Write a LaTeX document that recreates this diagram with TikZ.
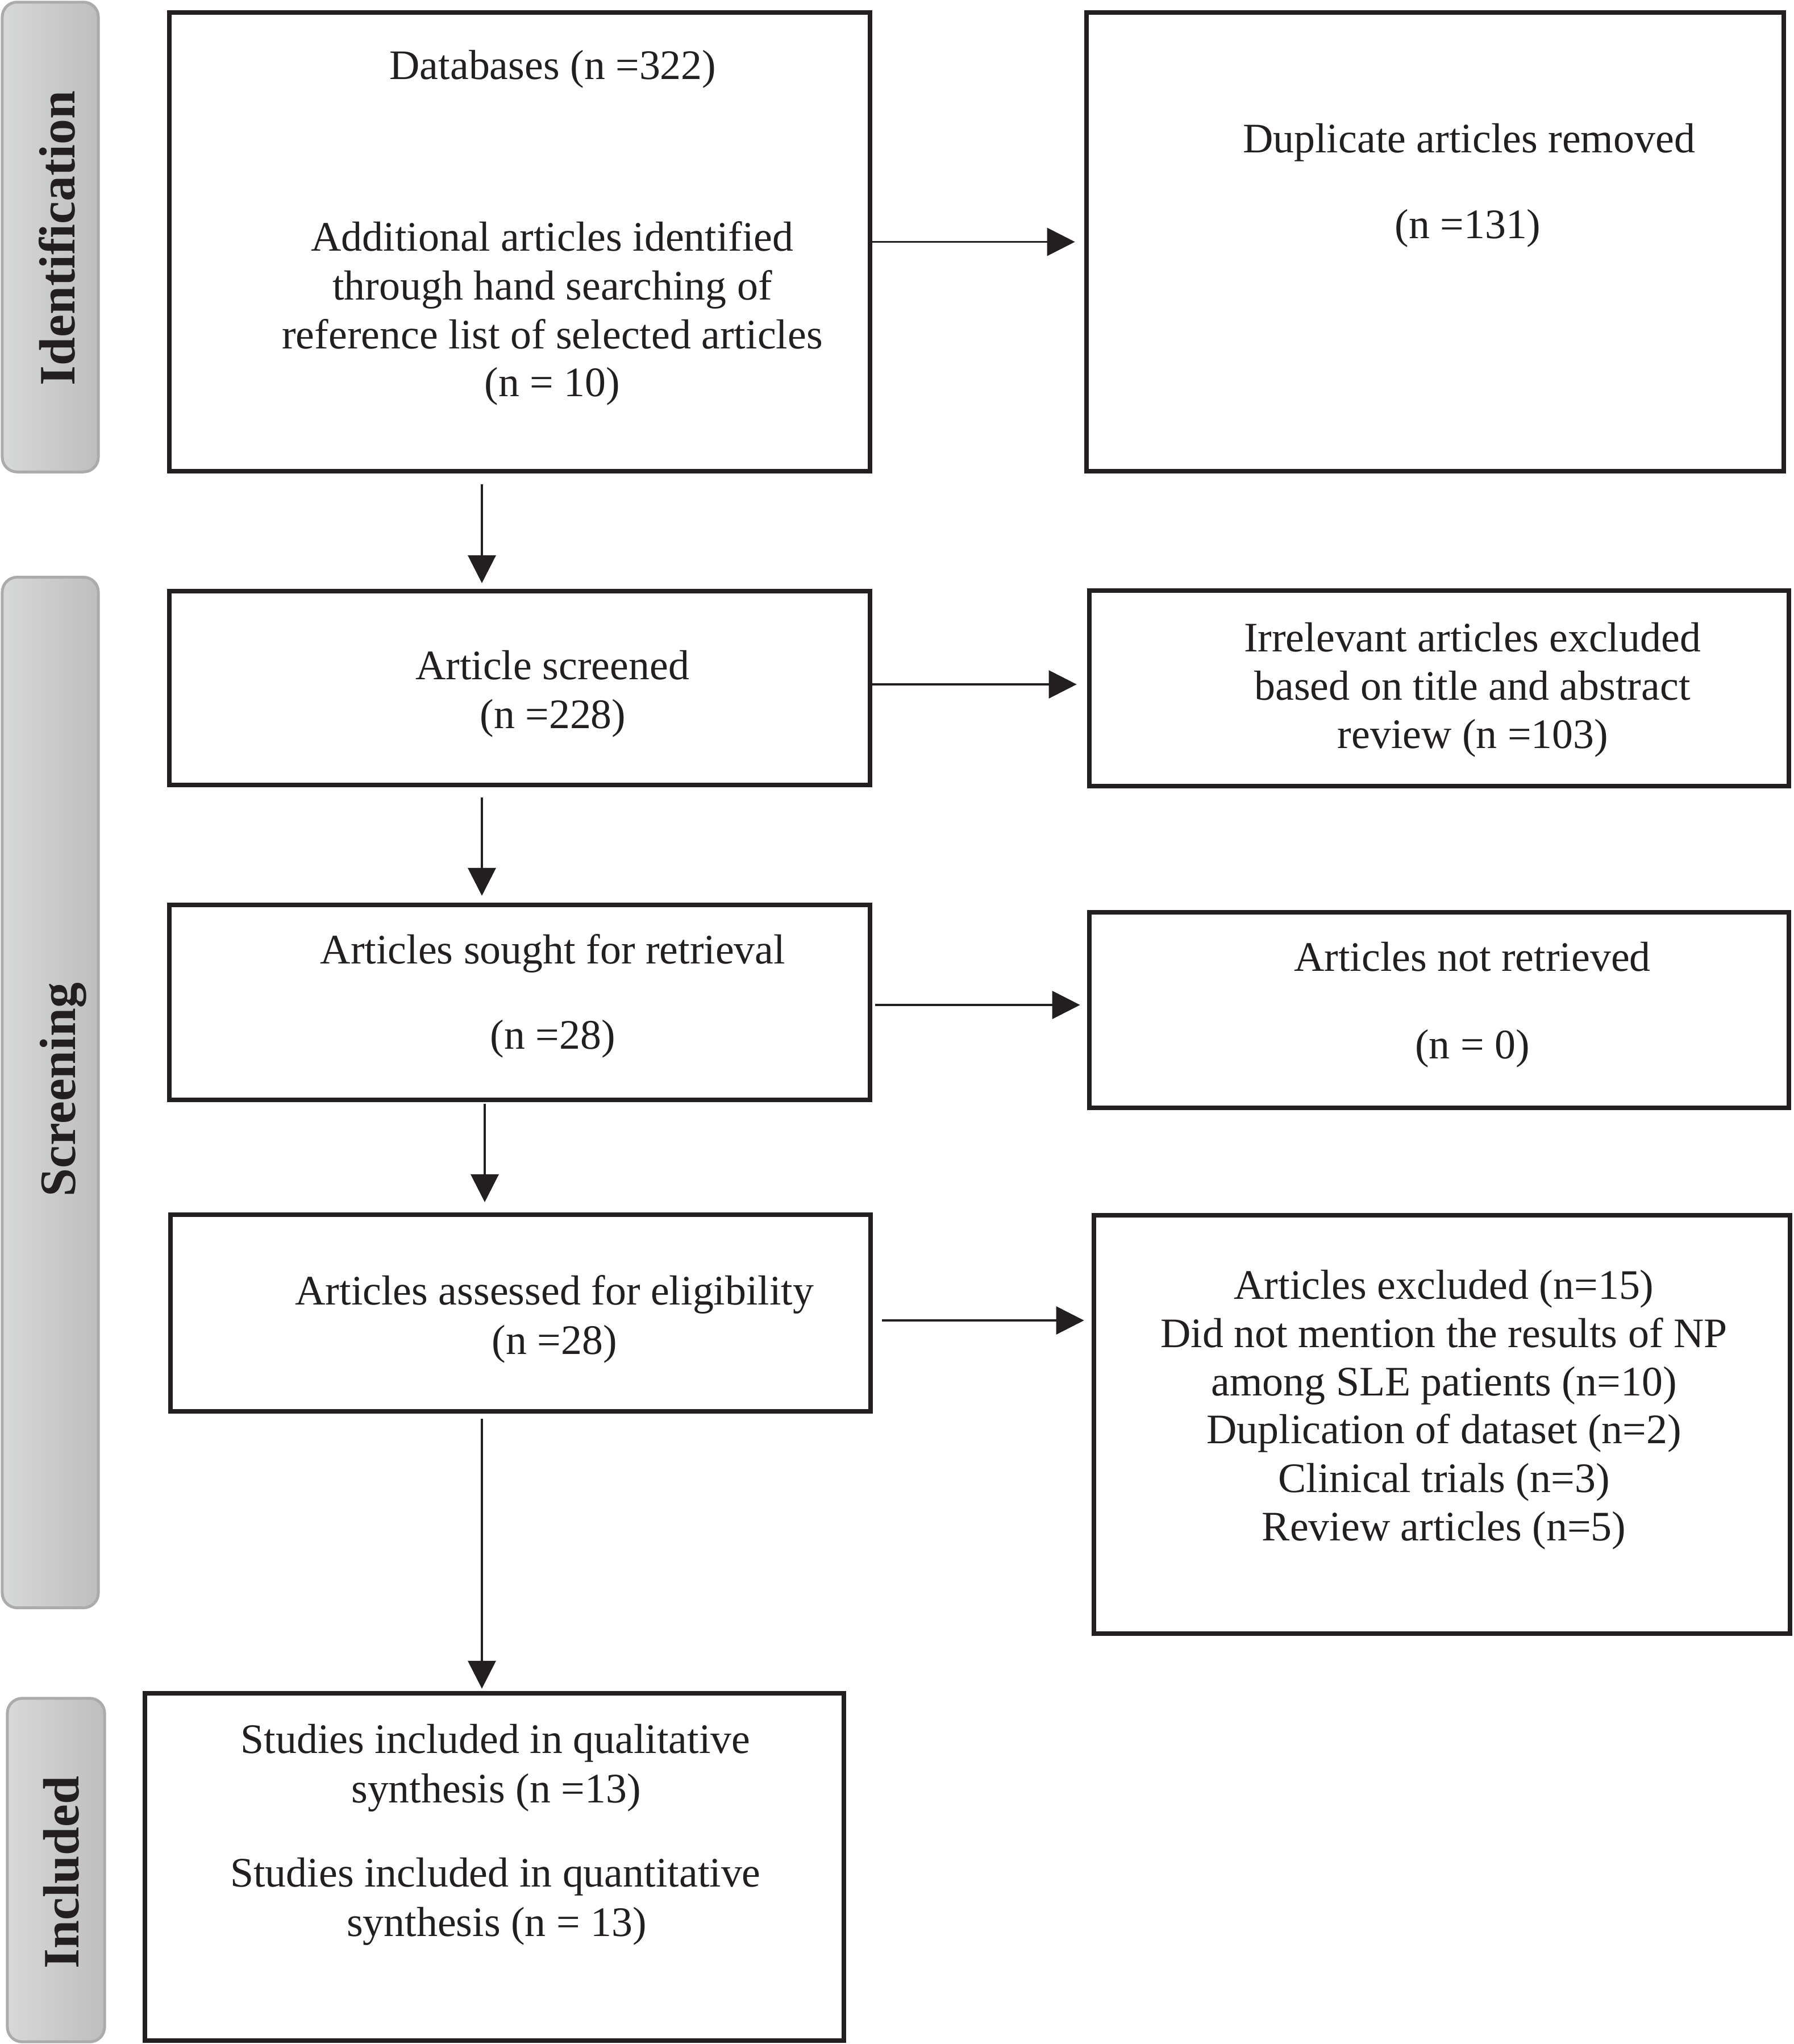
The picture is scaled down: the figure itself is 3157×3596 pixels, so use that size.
\documentclass[tikz,border=0pt]{standalone}
\usepackage{fontspec}
\setmainfont{Liberation Serif}
\usetikzlibrary{arrows.meta}
\definecolor{ink}{HTML}{231F20}
\definecolor{barL}{HTML}{D7D8D8}
\definecolor{barR}{HTML}{BEBEBE}
\definecolor{barEdge}{HTML}{ABABAB}
\begin{document}
\begin{tikzpicture}[x=0.01cm,y=-0.01cm,
  box/.style={draw=ink, line width=0.08cm, inner sep=0, fill=white},
  bar/.style={draw=barEdge, line width=0.05cm, rounded corners=0.26cm, left color=barL, right color=barR, inner sep=0},
  txt/.style={anchor=base, inner sep=0, text=ink, font=\fontsize{21pt}{24pt}\selectfont},
  lab/.style={anchor=base, inner sep=0, rotate=90, text=ink, font=\fontsize{25.5pt}{30pt}\selectfont\bfseries},
  arr/.style={draw=ink, line width=0.035cm, -{Triangle[length=0.49cm, width=0.49cm]}}]
\useasboundingbox (0,0) rectangle (3157,3596);
% side bars
\node[bar, minimum width=1.69cm, minimum height=8.26cm] (ib) at (88.5,417) {};
\node[bar, minimum width=1.69cm, minimum height=18.12cm] (sb) at (88.5,1922) {};
\node[bar, minimum width=1.71cm, minimum height=6.04cm] (nb) at (98.5,3290) {};
\node[lab] (il) at (131,419) {Identification};
\node[lab] (sl) at (133,1917) {Screening};
\node[lab] (nl) at (138,3294) {Included};
% boxes
\node[box, minimum width=12.33cm, minimum height=8.07cm] (db) at (914.5,425.5) {};
\node[box, minimum width=12.27cm, minimum height=8.07cm] (dup) at (2525.5,425.5) {};
\node[box, minimum width=12.33cm, minimum height=3.41cm] (scr) at (914.5,1210.5) {};
\node[box, minimum width=12.31cm, minimum height=3.44cm] (irr) at (2532.5,1211) {};
\node[box, minimum width=12.33cm, minimum height=3.43cm] (sou) at (914.5,1763.5) {};
\node[box, minimum width=12.31cm, minimum height=3.44cm] (nret) at (2532.5,1777) {};
\node[box, minimum width=12.32cm, minimum height=3.46cm] (ass) at (916,2310) {};
\node[box, minimum width=12.25cm, minimum height=7.36cm] (exc) at (2537.5,2506) {};
\node[box, minimum width=12.30cm, minimum height=6.11cm] (inc) at (870,3284.5) {};
% texts
\node[txt] (db1) at (973,139.5) {Databases (n =322)};
\node[txt] (db2) at (972,441) {Additional articles identified};
\node[txt] (db3) at (972,527) {through hand searching of};
\node[txt] (db4) at (972,613) {reference list of selected articles};
\node[txt] (db5) at (972,697) {(n = 10)};
\node[txt] (dup1) at (2585,268) {Duplicate articles removed};
\node[txt] (dup2) at (2583,419) {(n =131)};
\node[txt] (scr1) at (972,1195) {Article screened};
\node[txt] (scr2) at (973,1281) {(n =228)};
\node[txt] (irr1) at (2591,1146) {Irrelevant articles excluded};
\node[txt] (irr2) at (2591,1231) {based on title and abstract};
\node[txt] (irr3) at (2592,1316) {review (n =103)};
\node[txt] (sou1) at (973,1695) {Articles sought for retrieval};
\node[txt] (sou2) at (973,1845) {(n =28)};
\node[txt] (nret1) at (2591,1708) {Articles not retrieved};
\node[txt] (nret2) at (2591,1862) {(n = 0)};
\node[txt] (ass1) at (976,2295) {Articles assessed for eligibility};
\node[txt] (ass2) at (976,2382) {(n =28)};
\node[txt] (exc1) at (2541,2285) {Articles excluded (n=15)};
\node[txt] (exc2) at (2541,2370) {Did not mention the results of NP};
\node[txt] (exc3) at (2541,2455) {among SLE patients (n=10)};
\node[txt] (exc4) at (2541,2539) {Duplication of dataset (n=2)};
\node[txt] (exc5) at (2541,2625) {Clinical trials (n=3)};
\node[txt] (exc6) at (2541,2710) {Review articles (n=5)};
\node[txt] (inc1) at (872,3084) {Studies included in qualitative};
\node[txt] (inc2) at (873,3171) {synthesis (n =13)};
\node[txt] (inc3) at (872,3319) {Studies included in quantitative};
\node[txt] (inc4) at (874,3406) {synthesis (n = 13)};
% arrows
\coordinate (vx) at (848,0);
\coordinate (vy) at (853,0);
\draw[arr, shorten >=0.16cm] (db.east) -- (dup.west |- db.east);
\draw[arr, shorten >=0.18cm] ([yshift=0.065cm]scr.east) -- ([yshift=0.065cm]irr.west |- scr.east);
\draw[arr, shorten <=0.05cm, shorten >=0.12cm] ([yshift=-0.045cm]sou.east) -- ([yshift=-0.045cm]nret.west |- sou.east);
\draw[arr, shorten <=0.16cm, shorten >=0.13cm] ([yshift=-0.13cm]ass.east) -- ([yshift=-0.13cm]exc.west |- ass.east);
\draw[arr, shorten <=0.19cm, shorten >=0.10cm] (db.south -| vx) -- (scr.north -| vx);
\draw[arr, shorten <=0.18cm, shorten >=0.12cm] (scr.south -| vx) -- (sou.north -| vx);
\draw[arr, shorten <=0.03cm, shorten >=0.18cm] (sou.south -| vy) -- (ass.north -| vy);
\draw[arr, shorten <=0.09cm, shorten >=0.04cm] (ass.south -| vx) -- (inc.north -| vx);
\end{tikzpicture}
\end{document}
